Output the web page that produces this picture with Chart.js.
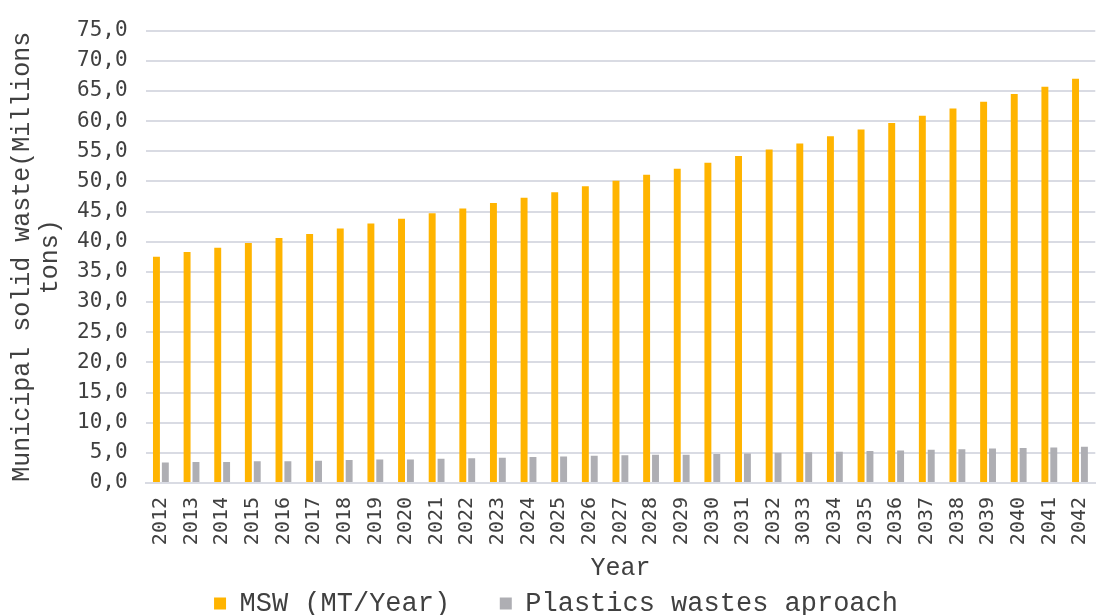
<!DOCTYPE html>
<html lang="en">
<head>
    <meta charset="UTF-8">
    <title>Municipal solid waste</title>
    <script src="https://cdn.jsdelivr.net/npm/chart.js"></script>
    <style>
        html, body { margin: 0; padding: 0; background: #fff; overflow: hidden; }
        #box { width: 1110px; height: 615px; }
    </style>
</head>
<body>
    <div id="box"><canvas id="grafico"></canvas></div>

    <script>
        const anni = ['2012','2013','2014','2015','2016','2017','2018','2019','2020','2021',
                      '2022','2023','2024','2025','2026','2027','2028','2029','2030','2031',
                      '2032','3033','2034','2035','2036','2037','2038','2039','2040','2041','2042'];
        const msw = [37.5, 38.3, 39.0, 39.8, 40.6, 41.3, 42.2, 43.0, 43.8, 44.7,
                     45.5, 46.4, 47.3, 48.2, 49.2, 50.1, 51.1, 52.1, 53.1, 54.2,
                     55.3, 56.3, 57.5, 58.6, 59.7, 60.9, 62.1, 63.2, 64.5, 65.7, 67.0];
        const plastica = [3.4, 3.5, 3.5, 3.6, 3.6, 3.7, 3.8, 3.9, 3.9, 4.0,
                          4.1, 4.2, 4.3, 4.4, 4.5, 4.6, 4.7, 4.7, 4.8, 4.9,
                          5.0, 5.1, 5.2, 5.3, 5.4, 5.5, 5.6, 5.7, 5.8, 5.9, 6.0];

        const mono = 'DejaVu Sans Mono';
        const courier = 'Liberation Mono';

        const ctx = document.getElementById('grafico').getContext('2d');
        new Chart(ctx, {
            type: 'bar',
            data: {
                labels: anni,
                datasets: [{
                    label: 'MSW (MT/Year)',
                    data: msw,
                    backgroundColor: '#FFB400',
                    barPercentage: 0.78,
                    categoryPercentage: 0.58
                }, {
                    label: 'Plastics wastes aproach',
                    data: plastica,
                    backgroundColor: '#AEAEB3',
                    barPercentage: 0.78,
                    categoryPercentage: 0.58
                }]
            },
            options: {
                responsive: true,
                maintainAspectRatio: false,
                animation: false,
                layout: { padding: { top: 7, right: 2, left: 4, bottom: 0 } },
                plugins: {
                    tooltip: { enabled: false },
                    legend: {
                        position: 'bottom',
                        maxHeight: 26,
                        labels: {
                            font: { family: courier, size: 27 },
                            color: '#404040',
                            boxWidth: 12,
                            boxHeight: 12,
                            padding: 1,
                            // spazio extra tra le due voci
                            generateLabels: chart => {
                                const base = Chart.defaults.plugins.legend.labels.generateLabels(chart);
                                base[0].text = base[0].text + '\u00a0\u00a0\u00a0';
                                return base;
                            }
                        }
                    }
                },
                scales: {
                    x: {
                        grid: { display: false },
                        border: { display: true, color: '#d9dbe3', width: 2 },
                        ticks: {
                            font: { family: mono, size: 20 },
                            color: '#404040',
                            minRotation: 90,
                            maxRotation: 90,
                            autoSkip: false,
                            padding: 6
                        },
                        title: {
                            display: true,
                            text: 'Year',
                            font: { family: courier, size: 25 },
                            color: '#404040',
                            padding: { top: 2, bottom: 6 }
                        },
                        afterFit: axis => { axis.height = 106; }
                    },
                    y: {
                        min: 0,
                        max: 75,
                        grid: { color: '#d9dbe3', lineWidth: 2, drawTicks: false },
                        border: { display: false },
                        ticks: {
                            stepSize: 5,
                            autoSkip: false,
                            font: { family: mono, size: 21 },
                            color: '#404040',
                            padding: 18,
                            callback: v => v.toFixed(1).replace('.', ',')
                        },
                        title: {
                            display: true,
                            text: ['Municipal solid waste(Millions', 'tons)'],
                            font: { family: courier, size: 25, lineHeight: 1.1 },
                            color: '#404040',
                            padding: { top: 5, bottom: -5 }
                        }
                    }
                }
            }
        });
    </script>
</body>
</html>
